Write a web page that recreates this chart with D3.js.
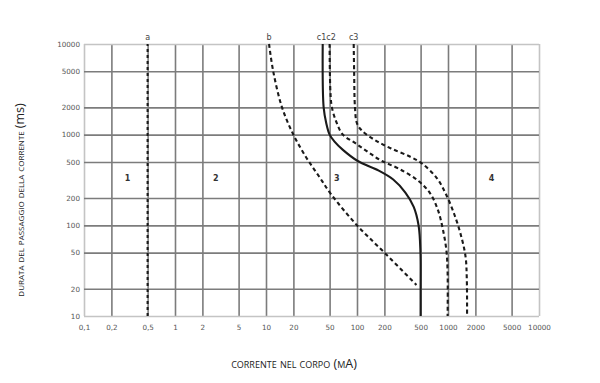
<!DOCTYPE html>
<html>
<head>
<meta charset="utf-8">
<script src="https://cdn.jsdelivr.net/npm/d3@7"></script>
<style>
  html, body { margin: 0; padding: 0; background: #fff; }
  svg { display: block; }
</style>
</head>
<body>
<svg id="chart" width="600" height="383"></svg>
<script>
// ---- data ----
const xTicks = [0.1, 0.2, 0.5, 1, 2, 5, 10, 20, 50, 100, 200, 500, 1000, 2000, 5000, 10000];
const xTickLabels = ["0,1", "0,2", "0,5", "1", "2", "5", "10", "20", "50", "100", "200", "500", "1000", "2000", "5000", "10000"];
const yTicks = [10, 20, 50, 100, 200, 500, 1000, 2000, 5000, 10000];
const yTickLabels = ["10", "20", "50", "100", "200", "500", "1000", "2000", "5000", "10000"];

// curves: [current mA, duration ms]
const curveA = [[0.5, 10], [0.5, 10000]];
const curveB = [[10.8, 10000], [12, 5000], [15, 2000], [20, 1000], [28, 550], [38, 350], [52, 220], [100, 100], [200, 50], [450, 22]];
const curveC1 = [[42, 10000], [43, 2000], [46, 1330], [50, 1000], [56, 850], [70, 680], [102, 512], [166, 410], [250, 320], [340, 230], [420, 160], [475, 100], [498, 50], [500, 20], [500, 10]];
const curveC2 = [[50, 10000], [51, 3000], [53, 2000], [60, 1340], [70, 1000], [95, 810], [133, 640], [188, 512], [290, 420], [470, 310], [634, 227], [776, 147], [881, 89], [960, 53], [990, 30], [990, 10]];
const curveC3 = [[92, 10000], [93, 5000], [95, 2000], [100, 1330], [114, 1100], [158, 870], [240, 700], [385, 570], [520, 480], [757, 330], [950, 220], [1180, 130], [1400, 75], [1560, 45], [1610, 25], [1620, 10]];

const curveLabels = ["a", "b", "c1c2", "c3"];
const curveLabelX = [0.5, 10.8, 46, 92];
const regionLabels = ["1", "2", "3", "4"];
const regionX = [0.3, 2.8, 60, 3000];
const regionY = [330, 330, 330, 330];

const yTitle = "durata del passaggio della corrente ";
const yTitleUnit = "(ms)";
const xTitle = "corrente nel corpo (mA)";

// ---- layout ----
const svg = d3.select("#chart");
const L = 84, R = 539, T = 44, B = 316;
const x = d3.scaleLog().domain([0.1, 10000]).range([L, R]);
const y = d3.scaleLog().domain([10, 10000]).range([B, T]);

// grid
const gx = svg.append("g").attr("transform", `translate(0,${B})`)
  .call(d3.axisBottom(x).tickValues(xTicks).tickSize(-(B - T)).tickFormat(""));
gx.select(".domain").remove();
gx.selectAll("line")
  .attr("stroke", (d, i) => (i === 0 || i === xTicks.length - 1) ? "#c4c4c4" : "#7c7c7c")
  .attr("stroke-width", 1.6);

const gy = svg.append("g").attr("transform", `translate(${L},0)`)
  .call(d3.axisLeft(y).tickValues(yTicks).tickSize(-(R - L)).tickFormat(""));
gy.select(".domain").remove();
gy.selectAll("line")
  .attr("stroke", (d, i) => (i === 0 || i === yTicks.length - 1) ? "#c4c4c4" : "#7c7c7c")
  .attr("stroke-width", 1.6);

// tick labels via axes
const ax = svg.append("g").attr("transform", `translate(0,${B + 6})`)
  .call(d3.axisBottom(x).tickValues(xTicks).tickSize(0).tickFormat((d, i) => xTickLabels[i]));
ax.select(".domain").remove();
ax.selectAll("text").attr("font-family", "DejaVu Sans, sans-serif").attr("font-size", 7.2).attr("fill", "#555").attr("dy", "0.71em");

const ay = svg.append("g").attr("transform", `translate(${L - 4},0)`)
  .call(d3.axisLeft(y).tickValues(yTicks).tickSize(0).tickFormat((d, i) => yTickLabels[i]));
ay.select(".domain").remove();
ay.selectAll("text").attr("font-family", "DejaVu Sans, sans-serif").attr("font-size", 7.2).attr("fill", "#555").attr("x", 0);

// curves
const line = d3.line().x(d => x(d[0])).y(d => y(d[1])).curve(d3.curveCatmullRom.alpha(0.5));
const curves = [
  { data: curveA, dash: "3,3" },
  { data: curveB, dash: "4,3" },
  { data: curveC2, dash: "4,3" },
  { data: curveC3, dash: "4,3" },
  { data: curveC1, dash: null }
];
curves.forEach(c => {
  svg.append("path").datum(c.data).attr("d", line)
    .attr("fill", "none").attr("stroke", "#1a1a1a").attr("stroke-width", 2.1)
    .attr("stroke-dasharray", c.dash);
});

// curve labels
svg.append("g").selectAll("text").data(curveLabels).join("text")
  .attr("x", (d, i) => x(curveLabelX[i]))
  .attr("y", T - 4)
  .attr("text-anchor", "middle")
  .attr("font-family", "DejaVu Sans, sans-serif").attr("font-size", 8)
  .attr("fill", "#444")
  .text(d => d);

// region labels
svg.append("g").selectAll("text").data(regionLabels).join("text")
  .attr("x", (d, i) => x(regionX[i]))
  .attr("y", (d, i) => y(regionY[i]))
  .attr("dy", "0.35em")
  .attr("text-anchor", "middle")
  .attr("font-family", "DejaVu Sans, sans-serif").attr("font-size", 8).attr("font-weight", "bold")
  .attr("fill", "#333")
  .text(d => d);

// axis titles
svg.append("text")
  .attr("x", 294).attr("y", 368)
  .attr("text-anchor", "middle")
  .attr("font-family", "Open Sans, sans-serif").attr("font-size", 12.5)
  .style("font-variant", "small-caps")
  .attr("fill", "#222")
  .text(xTitle);

const yt = svg.append("text")
  .attr("transform", "translate(24,200) rotate(-90)")
  .attr("text-anchor", "middle")
  .attr("font-family", "Open Sans, sans-serif").attr("font-size", 11.5)
  .attr("fill", "#222");
yt.append("tspan").style("font-variant", "small-caps").text(yTitle);
yt.append("tspan").attr("font-size", 12.5).text(yTitleUnit);
</script>
</body>
</html>
